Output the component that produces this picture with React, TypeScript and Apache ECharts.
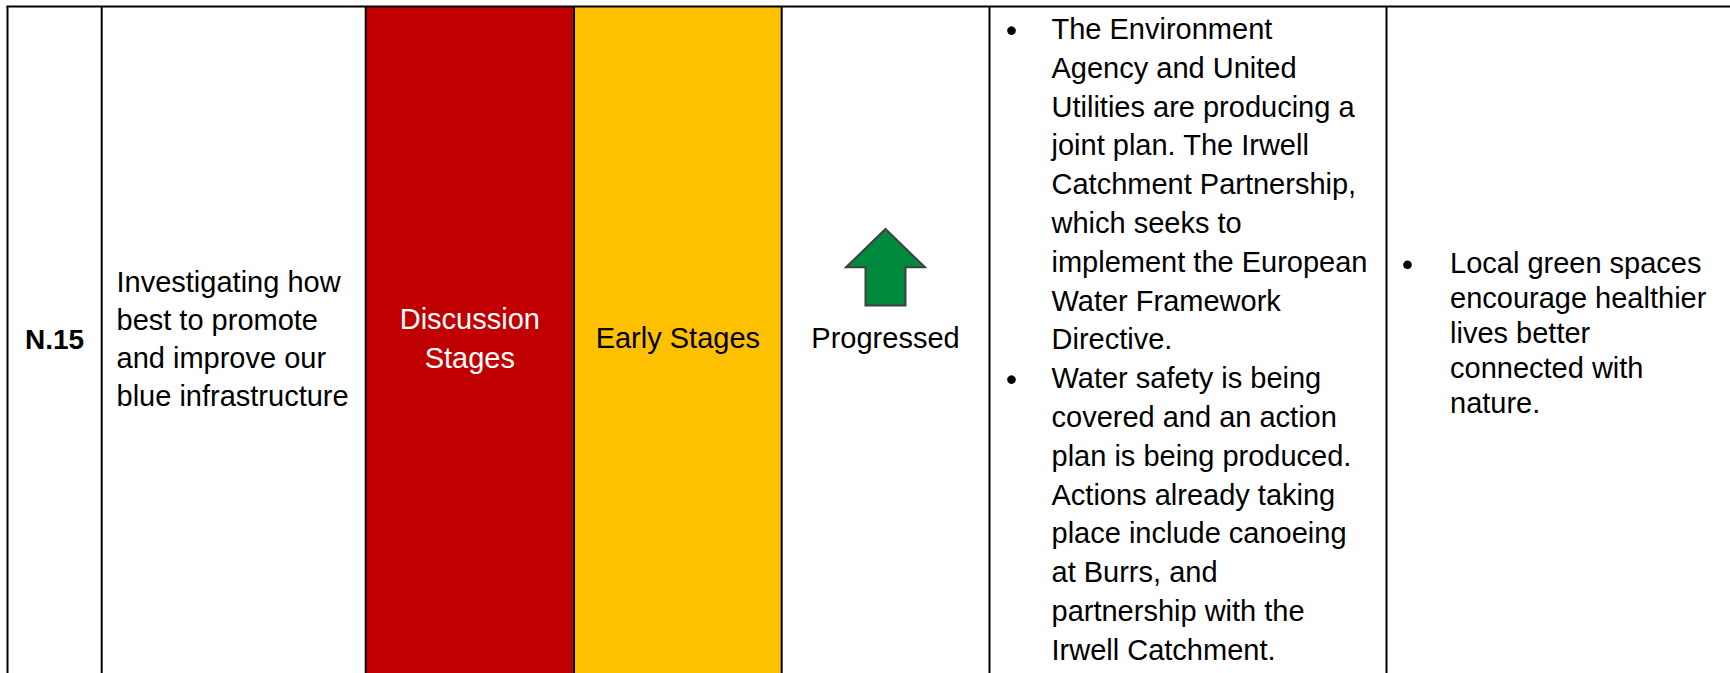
import React, { useEffect, useRef } from "react";
import * as echarts from "echarts";

// ---- table content ----
const rowId = "N.15";
const objectiveLines = ["Investigating how", "best to promote", "and improve our", "blue infrastructure"];
const statusRedLines = ["Discussion", "Stages"];
const statusAmberLines = ["Early Stages"];
const directionLabel = "Progressed";
const progressBullets = [
  [
    "The Environment",
    "Agency and United",
    "Utilities are producing a",
    "joint plan. The Irwell",
    "Catchment Partnership,",
    "which seeks to",
    "implement the European",
    "Water Framework",
    "Directive.",
  ],
  [
    "Water safety is being",
    "covered and an action",
    "plan is being produced.",
    "Actions already taking",
    "place include canoeing",
    "at Burrs, and",
    "partnership with the",
    "Irwell Catchment.",
  ],
];
const benefitBullets = [["Local green spaces", "encourage healthier", "lives better", "connected with", "nature."]];

// ---- layout (pixels) ----
const FONT = '"Liberation Sans", Arial, Helvetica, sans-serif';
const FS = 29;
const W = 1730;
const H = 673;
const TOP = 6.5;
const colEdges = [7.5, 101.7, 365.7, 574, 781.7, 989.5, 1386.5];
const RED = "#C00000";
const AMBER = "#FFC000";
const GREEN = "#008A3E";

function textAt(text: string, x: number, baseline: number, opts: any = {}) {
  const size = opts.size || FS;
  return {
    type: "text",
    silent: true,
    style: {
      text,
      x,
      y: baseline - 0.35 * size,
      fill: opts.fill || "#000000",
      font: `${opts.bold ? "bold " : ""}${size}px ${FONT}`,
      align: opts.align || "left",
      verticalAlign: "middle",
    },
    z: 10,
  };
}

function bulletList(items: string[][], bulletX: number, textX: number, firstBaseline: number, step: number) {
  const out: any[] = [];
  let i = 0;
  items.forEach((lines) => {
    lines.forEach((line, j) => {
      const b = firstBaseline + i * step;
      if (j === 0) {
        out.push({
          type: "circle",
          silent: true,
          shape: { cx: bulletX, cy: b - 8.7, r: 4.3 },
          style: { fill: "#000000" },
          z: 10,
        });
      }
      out.push(textAt(line, textX, b));
      i++;
    });
  });
  return out;
}

export default function App() {
  const ref = useRef<HTMLDivElement>(null);
  useEffect(() => {
    if (!ref.current) return;
    const chart = echarts.init(ref.current, undefined, { renderer: "svg" });
    const els: any[] = [];
    // background
    els.push({ type: "rect", silent: true, shape: { x: 0, y: 0, width: W, height: H }, style: { fill: "#ffffff" }, z: 0 });
    // coloured cells
    els.push({
      type: "rect",
      silent: true,
      shape: { x: colEdges[2], y: TOP, width: colEdges[3] - colEdges[2], height: H - TOP },
      style: { fill: RED },
      z: 1,
    });
    els.push({
      type: "rect",
      silent: true,
      shape: { x: colEdges[3], y: TOP, width: colEdges[4] - colEdges[3], height: H - TOP },
      style: { fill: AMBER },
      z: 1,
    });
    // grid lines
    els.push({
      type: "line",
      silent: true,
      shape: { x1: colEdges[0] - 1, y1: TOP, x2: W, y2: TOP },
      style: { stroke: "#000000", lineWidth: 2 },
      z: 5,
    });
    colEdges.forEach((x) => {
      els.push({
        type: "line",
        silent: true,
        shape: { x1: x, y1: TOP, x2: x, y2: H },
        style: { stroke: "#000000", lineWidth: 2 },
        z: 5,
      });
    });
    // column 1
    els.push(textAt(rowId, (colEdges[0] + colEdges[1]) / 2, 349.3, { bold: true, size: 28, align: "center" }));
    // column 2
    objectiveLines.forEach((l, i) => els.push(textAt(l, 116.5, 291.7 + i * 38.3)));
    // column 3
    statusRedLines.forEach((l, i) =>
      els.push(textAt(l, (colEdges[2] + colEdges[3]) / 2, 329.3 + i * 39.2, { fill: "#ffffff", align: "center" }))
    );
    // column 4
    statusAmberLines.forEach((l, i) => els.push(textAt(l, (colEdges[3] + colEdges[4]) / 2, 348.3 + i * 38.5, { align: "center" })));
    // column 5: arrow + label
    const cx = 885.5;
    els.push({
      type: "polygon",
      silent: true,
      shape: {
        points: [
          [cx, 229],
          [cx + 39.5, 267.3],
          [cx + 20, 267.3],
          [cx + 20, 305.5],
          [cx - 20, 305.5],
          [cx - 20, 267.3],
          [cx - 39.5, 267.3],
        ],
      },
      style: { fill: GREEN, stroke: "#404040", lineWidth: 2, lineJoin: "miter" },
      z: 8,
    });
    els.push(textAt(directionLabel, cx, 348.3, { align: "center" }));
    // column 6
    bulletList(progressBullets, 1011.5, 1051.5, 39.3, 38.78).forEach((e) => els.push(e));
    // column 7
    bulletList(benefitBullets, 1407.5, 1450, 273.5, 35).forEach((e) => els.push(e));

    chart.setOption({ animation: false, graphic: { elements: els } });
    return () => chart.dispose();
  }, []);
  return <div ref={ref} style={{ position: "fixed", left: 0, top: 0, width: W, height: H, background: "#fff" }} />;
}
